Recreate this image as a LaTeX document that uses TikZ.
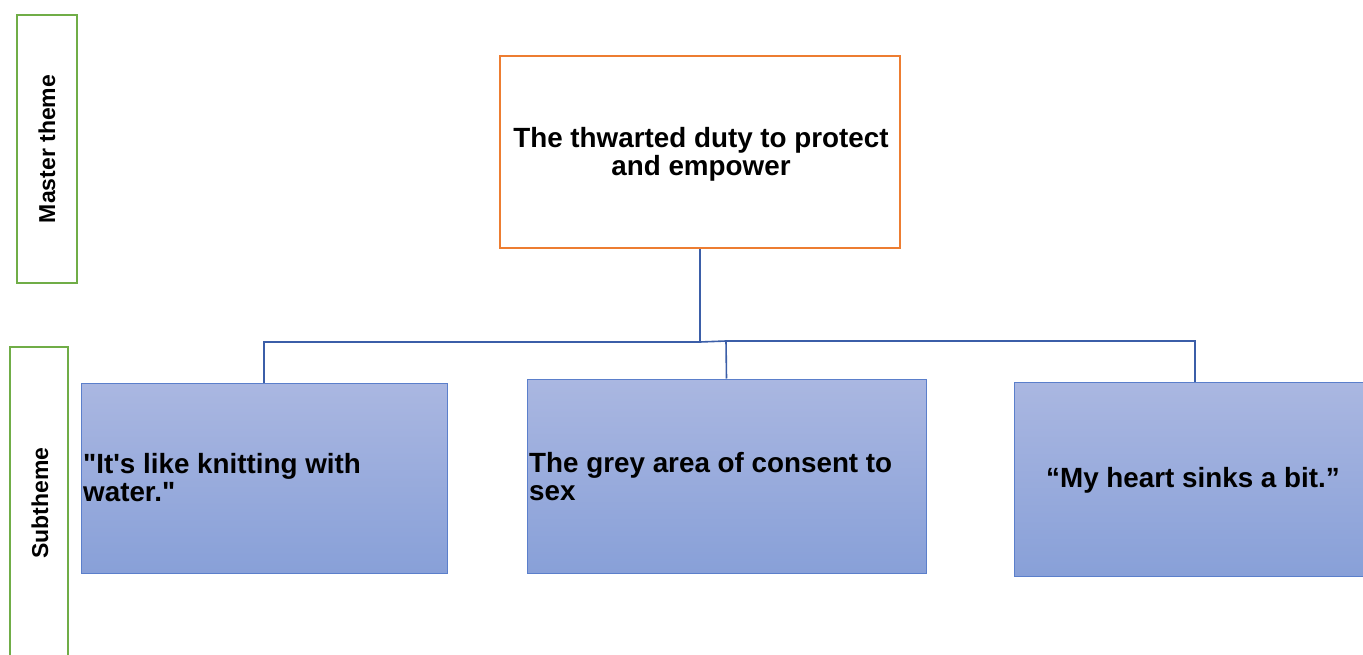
\documentclass[tikz,border=0pt]{standalone}
\usepackage{fontspec}
% plain family without TeX ligature mapping, so " and ' stay straight
\newfontfamily\arialfont{Liberation Sans}
\begin{document}
\definecolor{themegreen}{RGB}{112,173,71}
\definecolor{toporange}{RGB}{237,125,49}
\definecolor{linkblue}{RGB}{59,94,168}
\definecolor{boxedge}{RGB}{91,127,203}
\definecolor{fillTop}{RGB}{170,183,225}
\definecolor{fillBot}{RGB}{136,160,216}
\begin{tikzpicture}[x=1pt,y=-1pt,
  sidelabel/.style={draw=themegreen,line width=2pt},
  sidetext/.style={rotate=90,inner sep=0pt,font=\arialfont\bfseries\fontsize{23}{26}\selectfont},
  boxtext/.style={inner sep=0pt,font=\arialfont\bfseries\fontsize{27.8}{28}\selectfont},
  masterbox/.style={draw=toporange,line width=1.6pt,fill=white,minimum width=400pt,
    minimum height=192pt,inner sep=0pt},
  subbox/.style={draw=boxedge,line width=1pt,top color=fillTop,bottom color=fillBot,inner sep=0pt},
  link/.style={draw=linkblue,line width=1.6pt}]
\useasboundingbox (0,0) rectangle (1363,655);

% row labels
\draw[sidelabel] (17,15) rectangle (77,283);
\node[sidetext] (lblmaster) at (47,149) {Master theme};
\draw[sidelabel] (10,347) rectangle (68,662);
\node[sidetext] (lblsub) at (40,503) {Subtheme};

% master theme
\node[masterbox] (top) at (700,152) {};
\node[boxtext,align=center] (t0) at (701,154) {The thwarted duty to protect\\and empower};

% subthemes
\node[subbox,minimum width=366pt,minimum height=190pt] (s1) at (264,478) {};
\node[boxtext,anchor=west,align=left] (t1)
  at (83,478) {"It's like knitting with\\water."};

\node[subbox,minimum width=399pt,minimum height=194pt] (s2) at (726.5,476) {};
\node[boxtext,anchor=west,align=left] (t2)
  at (529,477) {The grey area of consent to\\sex};

\node[subbox,minimum width=349pt,minimum height=194pt] (s3) at (1189,479) {};
\node[boxtext] (t3) at (1193,480) {“My heart sinks a bit.”};

% connectors
\coordinate (busL) at (700,342);
\coordinate (busR) at (726,341);
\draw[link] (top.south) -- (busL) -| (s1.north);
\draw[link] (busL) -- (busR) -- (s2.north);
\draw[link] (busR) -| (1195,382) coordinate (c3);
\end{tikzpicture}
\end{document}
